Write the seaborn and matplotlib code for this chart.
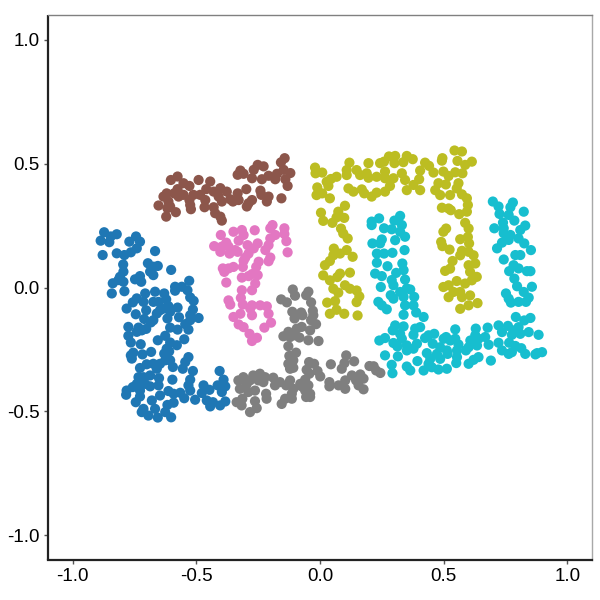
#!/usr/bin/env python3
"""Scatter of six point clusters, coloured by label"""

import pandas as pd
import matplotlib.pyplot as plt
import seaborn as sns

blue_x = [-0.873,-0.887,-0.852,-0.846,-0.822,-0.771,-0.744,-0.728,-0.741,-0.765,-0.791,-0.822,-0.879,-0.667,-0.796,-0.696,-0.656,-0.674,-0.795,-0.687,-0.674,-0.602,-0.809,-0.815,-0.838,-0.795,-0.748,-0.728,-0.723,-0.842,-0.791,-0.529,-0.586,-0.586,-0.559,-0.536,-0.707,-0.667,-0.630,-0.741,-0.757,-0.782,-0.714,-0.674,-0.653,-0.622,-0.525,-0.511,-0.613,-0.576,-0.703,-0.745,-0.647,-0.633,-0.660,-0.606,-0.514,-0.617,-0.570,-0.525,-0.491,-0.711,-0.674,-0.684,-0.525,-0.545,-0.775,-0.734,-0.703,-0.741,-0.721,-0.606,-0.576,-0.532,-0.775,-0.626,-0.656,-0.549,-0.765,-0.725,-0.606,-0.579,-0.620,-0.755,-0.765,-0.761,-0.718,-0.683,-0.630,-0.610,-0.532,-0.545,-0.555,-0.626,-0.606,-0.701,-0.674,-0.647,-0.728,-0.595,-0.660,-0.514,-0.406,-0.687,-0.714,-0.734,-0.651,-0.597,-0.390,-0.525,-0.741,-0.707,-0.687,-0.653,-0.532,-0.471,-0.414,-0.383,-0.757,-0.782,-0.784,-0.728,-0.613,-0.525,-0.447,-0.397,-0.592,-0.565,-0.478,-0.647,-0.728,-0.549,-0.745,-0.680,-0.505,-0.458,-0.433,-0.383,-0.592,-0.617,-0.714,-0.667,-0.721,-0.626,-0.444,-0.404,-0.694,-0.656,-0.602]
blue_y = [0.223,0.189,0.183,0.206,0.215,0.185,0.206,0.185,0.158,0.142,0.131,0.138,0.131,0.147,0.093,0.098,0.087,0.084,0.064,0.064,0.050,0.071,0.043,0.030,0.017,0.023,0.033,0.046,0.023,-0.024,-0.015,0.027,0.003,-0.013,0.003,-0.011,-0.024,-0.017,-0.024,-0.044,-0.060,-0.085,-0.058,-0.058,-0.058,-0.048,-0.040,-0.054,-0.075,-0.081,-0.092,-0.108,-0.092,-0.085,-0.105,-0.098,-0.089,-0.125,-0.120,-0.112,-0.123,-0.127,-0.132,-0.141,-0.132,-0.148,-0.159,-0.162,-0.167,-0.179,-0.173,-0.162,-0.170,-0.170,-0.195,-0.195,-0.213,-0.209,-0.222,-0.229,-0.222,-0.233,-0.247,-0.263,-0.274,-0.287,-0.270,-0.260,-0.267,-0.258,-0.281,-0.301,-0.328,-0.294,-0.294,-0.310,-0.308,-0.308,-0.325,-0.321,-0.328,-0.337,-0.337,-0.355,-0.362,-0.362,-0.366,-0.372,-0.372,-0.372,-0.389,-0.389,-0.399,-0.395,-0.395,-0.395,-0.395,-0.399,-0.402,-0.416,-0.433,-0.416,-0.418,-0.416,-0.413,-0.422,-0.429,-0.425,-0.426,-0.436,-0.440,-0.447,-0.463,-0.456,-0.453,-0.456,-0.463,-0.460,-0.465,-0.474,-0.490,-0.490,-0.503,-0.503,-0.480,-0.476,-0.517,-0.525,-0.524]

brown_x = [-0.143,-0.158,-0.252,-0.228,-0.322,-0.333,-0.309,-0.268,-0.120,-0.147,-0.174,-0.208,-0.235,-0.275,-0.181,-0.140,-0.131,-0.603,-0.576,-0.552,-0.528,-0.491,-0.444,-0.576,-0.460,-0.403,-0.430,-0.377,-0.298,-0.241,-0.237,-0.620,-0.633,-0.590,-0.552,-0.512,-0.485,-0.333,-0.156,-0.208,-0.215,-0.653,-0.613,-0.606,-0.572,-0.528,-0.464,-0.410,-0.363,-0.329,-0.275,-0.289,-0.525,-0.397,-0.352,-0.296,-0.467,-0.430,-0.617,-0.583,-0.622,-0.424,-0.403,-0.397,-0.522]
brown_y = [0.522,0.505,0.495,0.489,0.472,0.455,0.459,0.475,0.462,0.475,0.459,0.451,0.437,0.441,0.437,0.437,0.410,0.434,0.448,0.421,0.410,0.434,0.428,0.397,0.397,0.401,0.387,0.387,0.397,0.391,0.374,0.380,0.367,0.380,0.374,0.374,0.374,0.380,0.360,0.367,0.347,0.331,0.347,0.327,0.367,0.353,0.353,0.367,0.356,0.353,0.353,0.340,0.333,0.347,0.347,0.327,0.324,0.324,0.320,0.304,0.286,0.300,0.286,0.270,0.316]

pink_x = [-0.192,-0.144,-0.201,-0.350,-0.316,-0.309,-0.264,-0.401,-0.144,-0.181,-0.201,-0.329,-0.379,-0.428,-0.136,-0.252,-0.293,-0.208,-0.268,-0.397,-0.370,-0.343,-0.403,-0.366,-0.333,-0.221,-0.131,-0.289,-0.302,-0.201,-0.208,-0.309,-0.248,-0.258,-0.312,-0.350,-0.370,-0.393,-0.387,-0.275,-0.252,-0.316,-0.289,-0.379,-0.262,-0.275,-0.316,-0.320,-0.370,-0.363,-0.312,-0.275,-0.242,-0.215,-0.282,-0.208,-0.275,-0.322,-0.350,-0.329,-0.309,-0.198,-0.225,-0.285,-0.255,-0.275]
pink_y = [0.252,0.239,0.239,0.225,0.232,0.212,0.231,0.212,0.216,0.212,0.198,0.189,0.181,0.167,0.187,0.178,0.171,0.171,0.158,0.165,0.165,0.151,0.144,0.137,0.144,0.151,0.142,0.137,0.121,0.121,0.106,0.108,0.104,0.083,0.083,0.083,0.077,0.077,0.063,0.054,0.050,0.040,0.046,0.020,0.016,-0.011,-0.011,-0.042,-0.052,-0.069,-0.069,-0.072,-0.072,-0.076,-0.085,-0.106,-0.112,-0.106,-0.119,-0.149,-0.160,-0.142,-0.162,-0.187,-0.203,-0.216]

gray_x = [-0.110,-0.101,-0.047,-0.056,-0.157,-0.134,-0.036,-0.112,-0.103,-0.076,-0.071,-0.029,-0.027,-0.036,-0.016,-0.074,-0.094,-0.040,-0.101,-0.128,-0.148,-0.121,-0.083,-0.047,-0.006,-0.128,-0.097,-0.124,-0.108,-0.128,-0.108,-0.121,-0.044,-0.024,-0.054,-0.010,0.001,-0.043,0.106,0.138,0.099,0.044,0.088,0.217,0.200,0.227,0.244,0.129,0.163,0.176,0.146,-0.060,-0.080,-0.310,-0.330,-0.270,-0.243,-0.222,-0.189,-0.283,-0.249,-0.229,-0.297,-0.324,-0.263,-0.290,-0.182,-0.162,-0.121,-0.137,-0.108,-0.074,-0.047,-0.060,-0.114,-0.141,-0.155,-0.218,-0.216,0.038,0.038,0.075,0.102,0.102,0.156,0.176,-0.040,-0.056,-0.314,-0.337,-0.317,-0.263,-0.256,-0.283,-0.114,-0.040]
gray_y = [-0.008,-0.033,-0.017,-0.031,-0.048,-0.060,-0.060,-0.098,-0.125,-0.101,-0.112,-0.094,-0.112,-0.132,-0.148,-0.159,-0.166,-0.173,-0.193,-0.179,-0.197,-0.200,-0.202,-0.213,-0.216,-0.237,-0.263,-0.276,-0.294,-0.308,-0.324,-0.328,-0.301,-0.308,-0.332,-0.337,-0.359,-0.348,-0.274,-0.298,-0.305,-0.310,-0.328,-0.318,-0.317,-0.335,-0.345,-0.355,-0.351,-0.368,-0.375,-0.372,-0.389,-0.362,-0.375,-0.355,-0.348,-0.362,-0.364,-0.375,-0.375,-0.382,-0.391,-0.409,-0.416,-0.422,-0.395,-0.382,-0.375,-0.395,-0.409,-0.399,-0.395,-0.416,-0.429,-0.449,-0.470,-0.429,-0.449,-0.382,-0.399,-0.395,-0.375,-0.409,-0.395,-0.411,-0.429,-0.442,-0.449,-0.463,-0.476,-0.459,-0.487,-0.503,-0.449,-0.442]

olive_x = [-0.020,-0.018,0.009,0.067,0.044,0.027,-0.011,0.034,-0.014,0.009,0.040,0.119,0.108,0.108,0.148,0.162,0.196,0.189,0.196,0.243,0.259,0.279,0.304,0.301,0.337,0.351,0.375,0.425,0.441,0.405,0.459,0.263,0.229,0.263,0.331,0.344,0.297,0.401,0.378,0.283,0.115,0.135,0.169,0.179,0.209,0.229,0.263,0.351,0.405,0.101,0.004,0.074,0.067,0.098,0.013,0.050,0.085,0.094,0.112,0.495,0.493,0.544,0.574,0.556,0.614,0.587,0.499,0.520,0.547,0.576,0.479,0.509,0.560,0.553,0.466,0.486,0.526,0.574,0.594,0.598,0.493,0.520,0.529,0.563,0.594,0.587,0.601,0.510,0.499,0.567,0.598,0.490,0.495,0.524,0.603,0.574,0.567,0.601,0.621,0.536,0.601,0.628,0.526,0.506,0.607,0.634,0.553,0.614,0.587,0.520,0.499,0.567,0.540,0.520,0.607,0.574,0.601,0.637,0.567,0.056,0.108,0.081,0.054,0.132,0.020,0.040,0.013,0.121,0.081,0.070,0.040,0.101,0.121,0.054,0.148,0.074,0.159,0.148,0.029,0.061,0.067,0.040,0.098,0.152]
olive_y = [0.484,0.461,0.464,0.447,0.438,0.427,0.404,0.410,0.373,0.380,0.360,0.504,0.474,0.454,0.474,0.454,0.502,0.461,0.443,0.502,0.508,0.529,0.531,0.502,0.506,0.531,0.518,0.504,0.491,0.472,0.464,0.468,0.447,0.441,0.461,0.434,0.441,0.437,0.414,0.410,0.400,0.387,0.396,0.380,0.367,0.383,0.387,0.393,0.393,0.330,0.302,0.306,0.283,0.281,0.269,0.261,0.238,0.218,0.198,0.522,0.512,0.553,0.549,0.511,0.508,0.495,0.468,0.450,0.465,0.461,0.421,0.416,0.421,0.400,0.393,0.373,0.373,0.376,0.360,0.333,0.322,0.319,0.312,0.296,0.306,0.261,0.238,0.238,0.225,0.195,0.204,0.184,0.167,0.153,0.178,0.148,0.130,0.144,0.130,0.107,0.090,0.097,0.076,0.067,0.063,0.043,0.026,0.029,0.016,0.009,0.002,-0.018,-0.018,-0.039,-0.032,-0.039,-0.072,-0.063,-0.086,0.157,0.151,0.137,0.130,0.124,0.090,0.107,0.049,0.060,0.056,0.042,0.029,0.009,-0.005,-0.005,-0.012,-0.021,-0.036,-0.059,-0.061,-0.055,-0.090,-0.106,-0.106,-0.113]

cyan_x = [0.239,0.209,0.209,0.324,0.301,0.331,0.259,0.290,0.324,0.344,0.250,0.243,0.212,0.304,0.342,0.293,0.259,0.230,0.230,0.273,0.333,0.338,0.308,0.223,0.250,0.344,0.290,0.297,0.351,0.365,0.246,0.324,0.286,0.297,0.338,0.381,0.236,0.250,0.344,0.378,0.270,0.389,0.338,0.419,0.699,0.722,0.780,0.770,0.726,0.763,0.824,0.786,0.740,0.743,0.705,0.830,0.810,0.743,0.770,0.803,0.763,0.736,0.826,0.716,0.853,0.790,0.810,0.743,0.783,0.765,0.803,0.837,0.851,0.786,0.797,0.857,0.824,0.752,0.763,0.844,0.772,0.803,0.833,0.792,0.851,0.826,0.722,0.760,0.304,0.338,0.405,0.385,0.678,0.547,0.630,0.803,0.844,0.786,0.736,0.884,0.378,0.294,0.324,0.462,0.439,0.510,0.547,0.628,0.668,0.776,0.810,0.263,0.240,0.331,0.425,0.456,0.500,0.527,0.608,0.641,0.682,0.722,0.765,0.297,0.351,0.392,0.486,0.560,0.601,0.635,0.790,0.313,0.378,0.513,0.554,0.590,0.736,0.814,0.351,0.263,0.315,0.432,0.473,0.516,0.763,0.830,0.776,0.878,0.898,0.871,0.446,0.486,0.554,0.641,0.621,0.691,0.394,0.551,0.601,0.439,0.290,0.351,0.452,0.365,0.479,0.513,0.419,0.293]
cyan_y = [0.279,0.266,0.252,0.289,0.270,0.252,0.239,0.235,0.225,0.205,0.194,0.178,0.178,0.191,0.151,0.140,0.137,0.137,0.100,0.086,0.097,0.070,0.059,0.056,0.046,0.032,0.030,0.009,-0.004,-0.008,0.002,-0.018,-0.031,-0.045,-0.038,-0.038,-0.058,-0.072,-0.072,-0.072,-0.088,-0.101,-0.110,-0.119,0.347,0.327,0.343,0.324,0.297,0.293,0.306,0.270,0.262,0.239,0.239,0.250,0.232,0.219,0.212,0.198,0.192,0.181,0.178,0.158,0.151,0.131,0.131,0.113,0.090,0.066,0.077,0.066,0.066,0.036,0.005,0.003,-0.018,-0.024,-0.045,-0.041,-0.061,-0.058,-0.058,-0.119,-0.123,-0.133,-0.153,-0.155,-0.153,-0.157,-0.160,-0.166,-0.162,-0.169,-0.166,-0.160,-0.180,-0.173,-0.180,-0.191,-0.191,-0.173,-0.187,-0.187,-0.193,-0.200,-0.207,-0.193,-0.200,-0.191,-0.187,-0.204,-0.214,-0.207,-0.204,-0.227,-0.207,-0.214,-0.214,-0.207,-0.231,-0.223,-0.223,-0.224,-0.234,-0.227,-0.241,-0.230,-0.241,-0.234,-0.236,-0.238,-0.247,-0.254,-0.254,-0.254,-0.254,-0.245,-0.254,-0.274,-0.278,-0.265,-0.268,-0.268,-0.268,-0.268,-0.261,-0.265,-0.261,-0.270,-0.288,-0.288,-0.281,-0.281,-0.292,-0.295,-0.297,-0.305,-0.308,-0.308,-0.312,-0.319,-0.322,-0.335,-0.331,-0.328,-0.335,-0.346]

cluster_names = ['blue', 'brown', 'pink', 'gray', 'olive', 'cyan']
cluster_colors = ['#1f77b4', '#8c564b', '#e377c2', '#7f7f7f', '#bcbd22', '#17becf']
ticks = [-1.0, -0.5, 0.0, 0.5, 1.0]
tick_labels = ['-1.0', '-0.5', '0.0', '0.5', '1.0']

frames = []
for name, xs, ys in zip(cluster_names,
                        [blue_x, brown_x, pink_x, gray_x, olive_x, cyan_x],
                        [blue_y, brown_y, pink_y, gray_y, olive_y, cyan_y]):
    frames.append(pd.DataFrame({'x': xs, 'y': ys, 'cluster': name}))
df = pd.concat(frames, ignore_index=True)

sns.set_style('white')
plt.rcParams['font.family'] = ['Liberation Sans', 'DejaVu Sans']

fig = plt.figure(figsize=(6, 6), dpi=100)
ax = fig.add_axes([48 / 600, 40 / 600, 544 / 600, 545 / 600])

sns.scatterplot(data=df, x='x', y='y', hue='cluster', hue_order=cluster_names,
                palette=cluster_colors, s=54, linewidth=0, legend=False, ax=ax)

ax.set_xlim(-1.1, 1.1)
ax.set_ylim(-1.1, 1.1)
ax.set_xticks(ticks)
ax.set_xticklabels(tick_labels)
ax.set_yticks(ticks)
ax.set_yticklabels(tick_labels)
ax.set_xlabel('')
ax.set_ylabel('')
ax.tick_params(axis='both', labelsize=13.5, length=3, width=1, color='#555555',
               labelcolor='black', pad=3, left=True, bottom=True)

# dark left/bottom axis lines, thin grey on the other two sides
ax.spines['left'].set(color='#222222', linewidth=1.6, capstyle='butt')
ax.spines['bottom'].set(color='#222222', linewidth=1.6)
ax.spines['top'].set(color='#808080', linewidth=1)
ax.spines['right'].set(color='#a8a8a8', linewidth=1)

fig.savefig('out.png', dpi=100)
